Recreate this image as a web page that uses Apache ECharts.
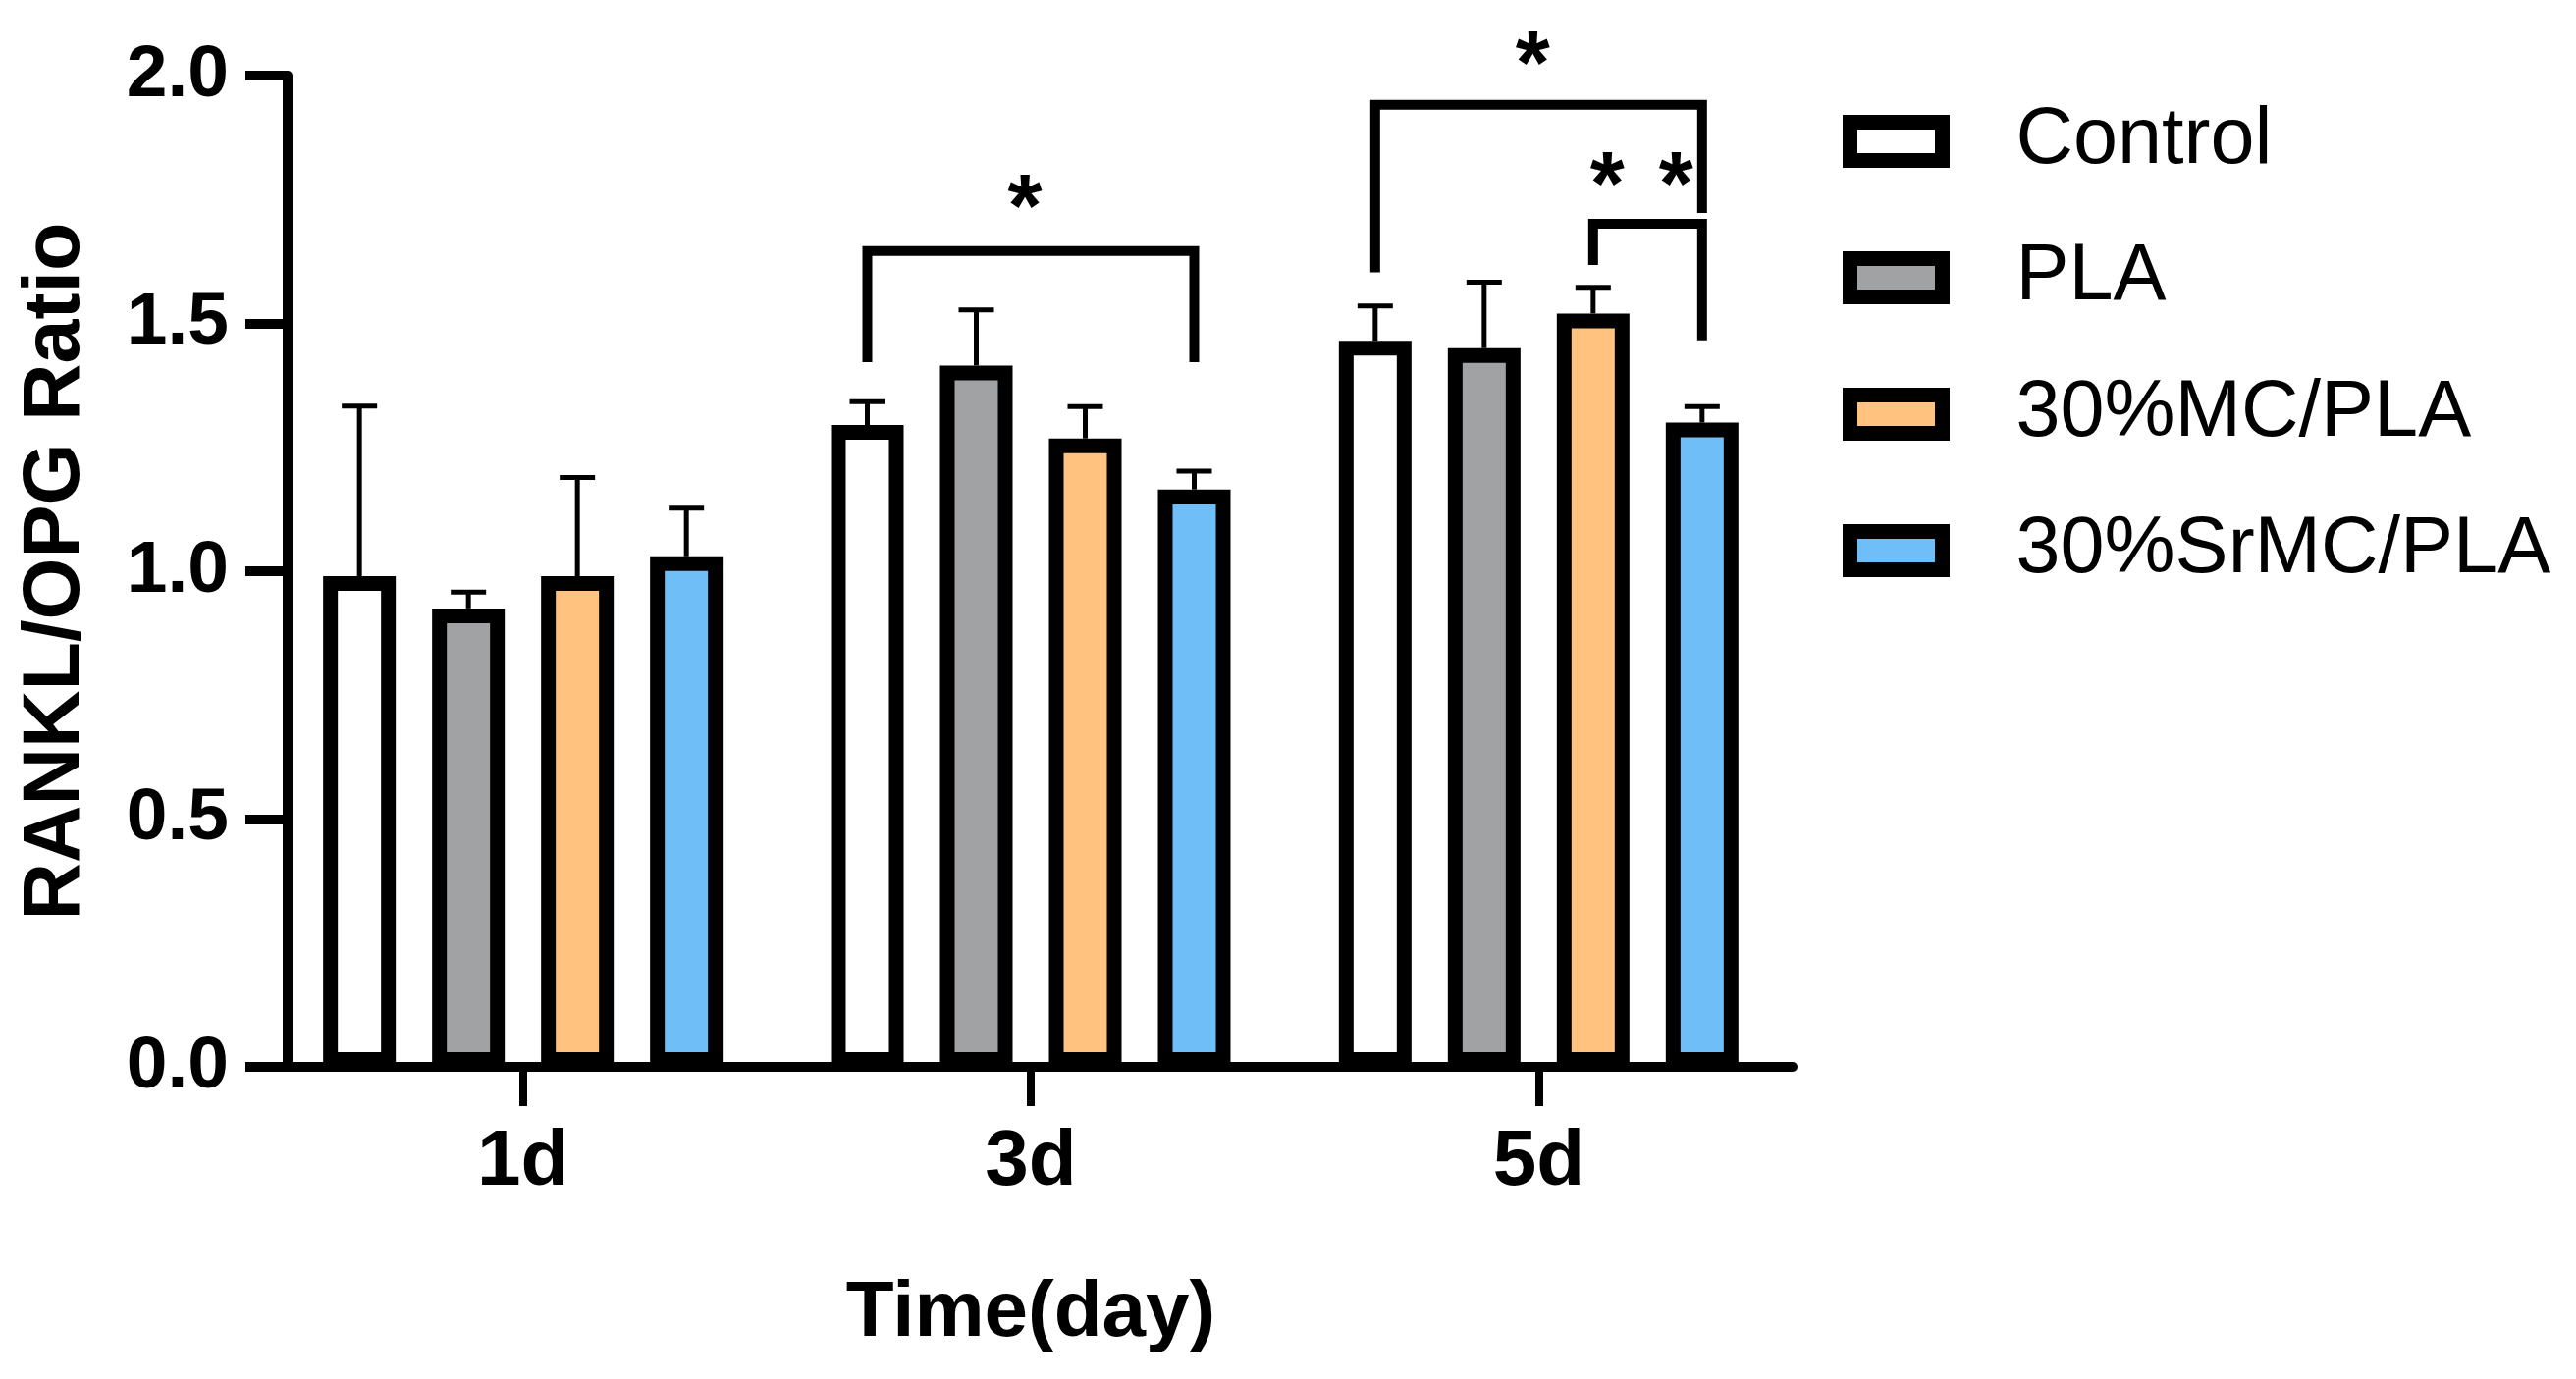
<!DOCTYPE html>
<html lang="en">
  <head>
    <meta charset="UTF-8" />
    <title>RANKL/OPG Ratio</title>
    <script src="https://cdn.jsdelivr.net/npm/echarts@6/dist/echarts.min.js"></script>
    <style>
      body { margin: 0; background: #fff; }
    </style>
  </head>
  <body>
    <div id="main" style="width: 2624px; height: 1405px"></div>
    <script type="text/javascript">
      // data
      const days = ["1d", "3d", "5d"];
      const groups = ["Control", "PLA", "30%MC/PLA", "30%SrMC/PLA"];
      const control = [0.99, 1.295, 1.465];
      const controlSD = [0.343, 0.047, 0.07];
      const pla = [0.925, 1.415, 1.45];
      const plaSD = [0.033, 0.112, 0.133];
      const mc = [0.99, 1.268, 1.52];
      const mcSD = [0.199, 0.064, 0.053];
      const srmc = [1.03, 1.165, 1.3];
      const srmcSD = [0.097, 0.037, 0.032];
      const yTicks = [0, 0.5, 1, 1.5, 2];

      // significance brackets: day index, from/to group, heights in data units
      const brackets = [
        { day: 1, from: 0, to: 3, top: 1.646, leftEnd: 1.422, rightEnd: 1.422, stars: 1, starY: 1.762 },
        { day: 2, from: 0, to: 3, top: 1.941, leftEnd: 1.603, rightEnd: 1.723, stars: 1, starY: 2.05 },
        { day: 2, from: 2, to: 3, top: 1.701, leftEnd: 1.618, rightEnd: 1.466, stars: 2, starY: 1.808 },
      ];

      const means = [control, pla, mc, srmc];
      const sds = [controlSD, plaSD, mcSD, srmcSD];
      const colors = ["#ffffff", "#a0a2a4", "#ffc27f", "#70bef8"];

      const FONT = '"Liberation Sans", Arial, sans-serif';
      const BAR_W = 74; // outer width, border is drawn inside
      const BAR_GAP = 0.5;
      const PITCH = BAR_W * (1 + BAR_GAP);

      let errData = [];
      for (let s = 0; s < means.length; s++) {
        for (let d = 0; d < days.length; d++) {
          errData.push([d, s, means[s][d], sds[s][d]]);
        }
      }

      let series = groups.map((name, i) => ({
        name: name,
        type: "bar",
        data: means[i],
        barWidth: BAR_W,
        barGap: BAR_GAP * 100 + "%",
        itemStyle: { color: colors[i], borderColor: "#000", borderWidth: 15 },
        emphasis: { disabled: true },
      }));

      series.push({
        type: "custom",
        data: errData,
        encode: { x: 0, y: 2 },
        z: 5,
        renderItem: function (params, api) {
          const d = api.value(0);
          const s = api.value(1);
          const m = api.value(2);
          const sd = api.value(3);
          const base = api.coord([d, m]);
          const top = api.coord([d, m + sd]);
          const x = base[0] + (s - 1.5) * PITCH;
          const st = { stroke: "#000", lineWidth: 5 };
          return {
            type: "group",
            children: [
              { type: "line", shape: { x1: x, y1: base[1], x2: x, y2: top[1] }, style: st },
              { type: "line", shape: { x1: x - 18, y1: top[1], x2: x + 18, y2: top[1] }, style: st },
            ],
          };
        },
      });

      let options = {
        animation: false,
        backgroundColor: "#fff",
        grid: { left: 274, right: 798, top: 77, bottom: 318 },
        legend: {
          data: groups,
          orient: "vertical",
          left: 1877,
          top: 94,
          padding: 0,
          itemGap: 39,
          itemWidth: 94,
          itemHeight: 39,
          icon: "rect",
          itemStyle: { borderColor: "#000", borderWidth: 15 },
          textStyle: {
            fontFamily: FONT,
            fontSize: 81,
            color: "#000",
            lineHeight: 100,
            padding: [0, 0, 0, 70],
          },
        },
        xAxis: {
          type: "category",
          data: days,
          name: "Time(day)",
          nameLocation: "middle",
          nameGap: 212,
          nameTextStyle: { fontFamily: FONT, fontWeight: "bold", fontSize: 80, color: "#000" },
          axisLine: { show: true, lineStyle: { color: "#000", width: 10 } },
          axisTick: { show: true, alignWithLabel: true, length: 40, lineStyle: { color: "#000", width: 8 } },
          axisLabel: { fontFamily: FONT, fontWeight: "bold", fontSize: 80, color: "#000", margin: 58 },
        },
        yAxis: {
          type: "value",
          min: yTicks[0],
          max: yTicks[yTicks.length - 1],
          interval: yTicks[1] - yTicks[0],
          offset: -19,
          name: "RANKL/OPG Ratio",
          nameLocation: "middle",
          nameGap: 195,
          nameTextStyle: { fontFamily: FONT, fontWeight: "bold", fontSize: 81, color: "#000" },
          axisLine: { show: true, lineStyle: { color: "#000", width: 10 } },
          axisTick: { show: true, length: 43, lineStyle: { color: "#000", width: 10 } },
          axisLabel: {
            fontFamily: FONT,
            fontWeight: "bold",
            fontSize: 75,
            color: "#000",
            margin: 60,
            formatter: (v) => v.toFixed(1),
          },
          splitLine: { show: false },
        },
        series: series,
      };

      let myChart = echarts.init(document.getElementById("main"));
      myChart.setOption(options);

      // brackets and stars, placed through the axes
      function px(d, s, v) {
        const p = myChart.convertToPixel({ gridIndex: 0 }, [d, v]);
        return [p[0] + (s - 1.5) * PITCH, p[1]];
      }
      const STAR_SIZE = 90;
      let graphics = [];
      brackets.forEach((b) => {
        const l0 = px(b.day, b.from, b.leftEnd);
        const lt = px(b.day, b.from, b.top);
        const rt = px(b.day, b.to, b.top);
        const r0 = px(b.day, b.to, b.rightEnd);
        graphics.push({
          type: "polyline",
          shape: { points: [l0, lt, rt, r0] },
          style: { stroke: "#000", lineWidth: 10, fill: null, lineJoin: "miter" },
        });
        const sy = px(b.day, b.from, b.starY)[1] + STAR_SIZE * 0.21;
        const mid = (lt[0] + rt[0]) / 2 - 6;
        const xs = b.stars === 1 ? [mid] : [mid - 35, mid + 35];
        xs.forEach((x) => {
          graphics.push({
            type: "text",
            x: x,
            y: sy,
            style: {
              text: "*",
              fontFamily: FONT,
              fontWeight: "bold",
              fontSize: STAR_SIZE,
              fill: "#000",
              align: "center",
              verticalAlign: "middle",
            },
          });
        });
      });
      myChart.setOption({ graphic: graphics });
    </script>
  </body>
</html>
